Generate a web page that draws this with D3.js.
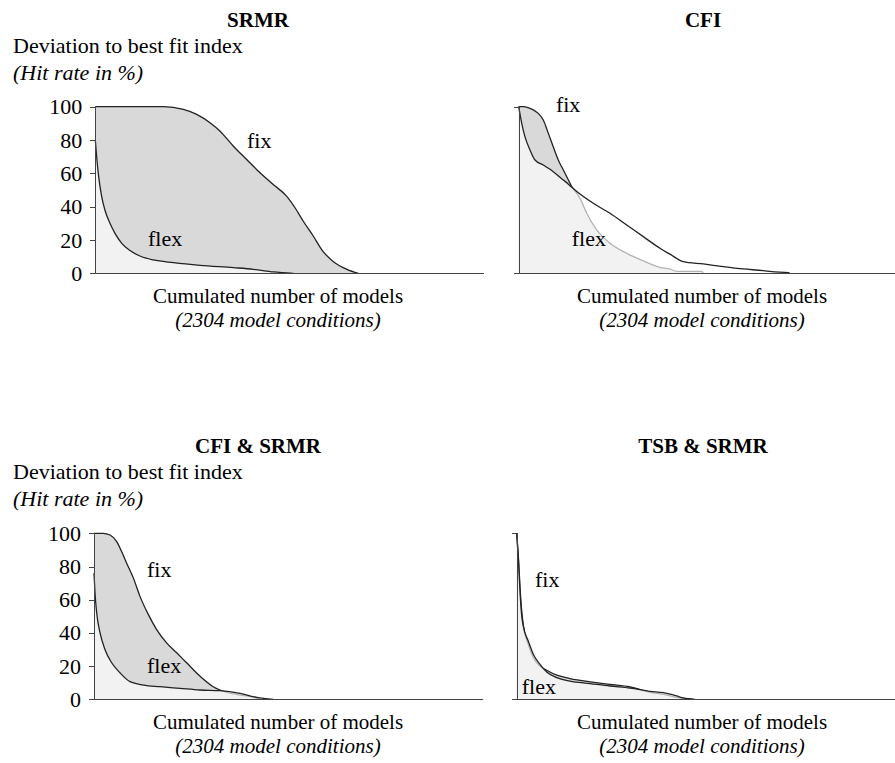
<!DOCTYPE html>
<html lang="en">
<head>
<meta charset="UTF-8">
<title>Deviation to best fit index</title>
<style>
    body { margin: 0; background: #fff; }
    svg text { font-family: "Liberation Serif", "DejaVu Serif", serif; }
    .axis path, .axis line { stroke: #444; shape-rendering: crispEdges; }
</style>
</head>
<body>
<script src="https://d3js.org/d3.v7.min.js"></script>
<script>
    // cumulated number of models (x) vs. hit rate in % (y)
    var srmrFix = [[0,100],[404,100],[523,98.4],[602,95.4],[681,90.4],[741,85.3],[820,76.3],[899,68.3],[959,62.2],[1058,53.2],[1137,46.2],[1187,39.2],[1236,31.1],[1296,22.1],[1345,14.1],[1414,7],[1494,2.4],[1563,0]];
    var srmrFlex = [[0,80],[8,70],[20,58],[38,46],[57,38],[87,30],[117,24],[157,18],[206,13.7],[265,10.4],[345,8],[464,6.4],[622,4.8],[820,3.4],[939,2.4],[1058,0.8],[1177,0]];

    var cfiFix = [[0,100],[30,100],[67,99],[116,96],[146,92],[176,84],[205,76],[235,68],[265,62],[295,56],[315,52],[334,49.5],[364,45],[404,36],[463,26],[542,18],[641,12],[740,7.5],[839,3.6],[898,2.6],[938,1.2],[1087,1.2],[1095,0]];
    var cfiFlex = [[0,100],[18,90],[37,82],[67,74],[97,68],[146,65],[205,61],[265,56],[295,53.5],[334,50],[443,42],[542,36],[641,29],[740,22],[839,15],[898,11.5],[977,7],[1096,5.6],[1215,4],[1334,2.6],[1452,1.6],[1502,1],[1601,0.4],[1610,0]];

    var csFix = [[0,100],[55,100],[95,99],[135,95],[164,89],[194,82],[234,73],[273,62],[323,51],[372,42],[431,34],[491,28],[550,22],[629,14],[708,7.6],[748,5.6],[827,3.2],[906,2],[966,0.6],[986,0]];
    var csFlex = [[0,76],[6,64],[16,52],[36,40],[65,30],[105,22],[154,16],[214,10.6],[293,8.6],[392,7.6],[511,6.6],[629,5.6],[748,5.2],[867,3.6],[966,1.2],[1065,0]];

    var tsFix = [[0,100],[10,86],[20,67],[30,53],[39,45],[69,33],[99,25],[138,20],[178,17.5],[238,14.5],[316,12.5],[436,10.5],[554,9],[674,7.5],[792,4.2],[871,3],[950,1.2],[989,0.5],[1040,0]];
    var tsFlex = [[0,100],[10,84],[20,64],[30,50],[39,44],[69,35],[99,27],[138,21],[178,16.5],[238,13],[316,11],[436,9.5],[554,8],[674,6.8],[792,4.8],[871,4],[950,2],[989,0.8],[1059,0]];

    var titles = ["SRMR", "CFI", "CFI & SRMR", "TSB & SRMR"];
    var yTicks = [0, 20, 40, 60, 80, 100];
    var yTitle = ["Deviation to best fit index", "(Hit rate in %)"];
    var xTitle = ["Cumulated number of models", "(2304 model conditions)"];
    var totalModels = 2304;

    var W = 895, H = 763;
    var axisLen = 388;

    var panels = [
        {title: titles[0], fix: srmrFix, flex: srmrFlex, left: 95.3, top: 106.7, bottom: 273.3, labels: true, cx: 258, cxAxis: 278,
         fixAt: [901, 75.2], flexAt: [313, 16.4]},
        {title: titles[1], fix: cfiFix, flex: cfiFlex, left: 518.7, top: 106.7, bottom: 273.3, labels: false, cx: 703, cxAxis: 702,
         fixAt: [221, 97], flexAt: [315, 16.4]},
        {title: titles[2], fix: csFix, flex: csFlex, left: 94, top: 533.3, bottom: 699.3, labels: true, cx: 258, cxAxis: 278,
         fixAt: [315, 73.9], flexAt: [315, 16]},
        {title: titles[3], fix: tsFix, flex: tsFlex, left: 516.7, top: 533.3, bottom: 699.3, labels: false, cx: 703, cxAxis: 702,
         fixAt: [109, 67.8], flexAt: [30, 3.2]}
    ];

    var svg = d3.select("body").append("svg")
        .attr("width", W)
        .attr("height", H);

    panels.forEach(function(p) {
        var x = d3.scaleLinear().domain([0, totalModels]).range([p.left, p.left + axisLen]);
        var y = d3.scaleLinear().domain([0, 100]).range([p.bottom, p.top]);

        var area = d3.area()
            .x(function(d) { return x(d[0]); })
            .y0(y(0))
            .y1(function(d) { return y(d[1]); })
            .curve(d3.curveMonotoneX);
        var line = d3.line()
            .x(function(d) { return x(d[0]); })
            .y(function(d) { return y(d[1]); })
            .curve(d3.curveMonotoneX);

        var g = svg.append("g");

        // fix series behind
        g.append("path").datum(p.fix)
            .attr("d", area)
            .attr("fill", "#d9d9d9");
        g.append("path").datum(p.fix)
            .attr("d", line)
            .attr("fill", "none")
            .attr("stroke", "#222")
            .attr("stroke-width", 1.3);

        // flex series in front, half transparent white fill
        g.append("path").datum(p.flex)
            .attr("d", area)
            .attr("fill", "#fff")
            .attr("fill-opacity", 0.66);
        g.append("path").datum(p.flex)
            .attr("d", line)
            .attr("fill", "none")
            .attr("stroke", "#222")
            .attr("stroke-width", 1.3);

        // axes
        var yAxis = d3.axisLeft(y).tickSizeOuter(0).tickSize(5).tickPadding(8);
        if (p.labels) {
            yAxis.tickValues(yTicks).tickFormat(d3.format("d"));
        } else {
            yAxis.tickValues([0, 100]).tickFormat("");
        }
        var ya = g.append("g")
            .attr("class", "axis")
            .attr("transform", "translate(" + p.left + ",0)")
            .call(yAxis);
        ya.selectAll("text")
            .attr("fill", "#000")
            .attr("font-size", "22px");

        g.append("g")
            .attr("class", "axis")
            .attr("transform", "translate(0," + p.bottom + ")")
            .call(d3.axisBottom(x).tickValues([]).tickSizeOuter(0));

        // series labels
        g.append("text")
            .attr("x", x(p.fixAt[0]))
            .attr("y", y(p.fixAt[1]))
            .attr("font-size", "22px")
            .text("fix");
        g.append("text")
            .attr("x", x(p.flexAt[0]))
            .attr("y", y(p.flexAt[1]))
            .attr("font-size", "22px")
            .text("flex");

        // title
        g.append("text")
            .attr("x", p.cx)
            .attr("y", p.top - 80)
            .attr("text-anchor", "middle")
            .attr("font-weight", "bold")
            .attr("font-size", "21px")
            .text(p.title);

        if (p.labels) {
            g.append("text")
                .attr("x", 13)
                .attr("y", p.top - 54)
                .attr("font-size", "22px")
                .text(yTitle[0]);
            g.append("text")
                .attr("x", 13)
                .attr("y", p.top - 27)
                .attr("font-size", "22px")
                .attr("font-style", "italic")
                .text(yTitle[1]);
        }

        g.append("text")
            .attr("x", p.cxAxis)
            .attr("y", p.bottom + 30)
            .attr("text-anchor", "middle")
            .attr("font-size", "21px")
            .text(xTitle[0]);
        g.append("text")
            .attr("x", p.cxAxis)
            .attr("y", p.bottom + 54)
            .attr("text-anchor", "middle")
            .attr("font-size", "21px")
            .attr("font-style", "italic")
            .text(xTitle[1]);
    });
</script>
</body>
</html>
